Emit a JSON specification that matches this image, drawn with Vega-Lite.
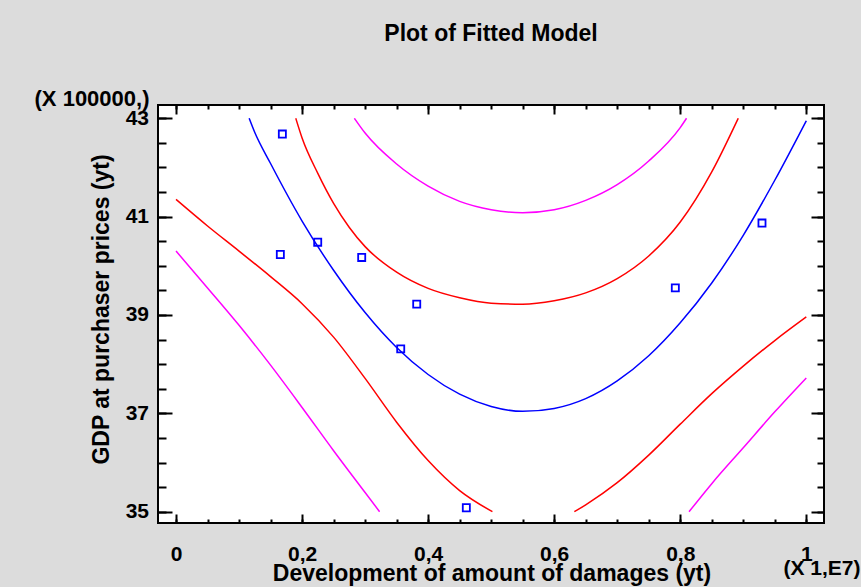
{
  "$schema": "https://vega.github.io/schema/vega-lite/v6.json",
  "width": 666,
  "height": 418,
  "autosize": {"type": "none"},
  "padding": {"left": 158, "top": 105, "right": 37, "bottom": 64},
  "background": "#dcdcdc",
  "title": {"text": "Plot of Fitted Model", "font": "Liberation Sans", "fontSize": 23, "fontWeight": "bold", "color": "black", "anchor": "middle", "frame": "group", "baseline": "alphabetic", "offset": 23},
  "config": {
    "view": {"fill": "white", "stroke": "black", "strokeWidth": 2},
    "axis": {
      "grid": false, "domain": false, "labelOverlap": false,
      "labelFont": "Liberation Sans", "labelFontSize": 21, "labelFontWeight": "bold", "labelColor": "black",
      "titleFont": "Liberation Sans", "titleFontSize": 23, "titleFontWeight": "bold", "titleColor": "black",
      "tickColor": "black", "tickWidth": 2
    }
  },
  "datasets": {
    "curves": [
      {"seg": "fit", "x": 0.116, "y": 43.0}, {"seg": "fit", "x": 0.125, "y": 42.71}, {"seg": "fit", "x": 0.15, "y": 42.08}, {"seg": "fit", "x": 0.2, "y": 40.91}, {"seg": "fit", "x": 0.25, "y": 39.91}, {"seg": "fit", "x": 0.3, "y": 39.05}, {"seg": "fit", "x": 0.35, "y": 38.34}, {"seg": "fit", "x": 0.4, "y": 37.79}, {"seg": "fit", "x": 0.45, "y": 37.39}, {"seg": "fit", "x": 0.5, "y": 37.14}, {"seg": "fit", "x": 0.55, "y": 37.04}, {"seg": "fit", "x": 0.6, "y": 37.1}, {"seg": "fit", "x": 0.65, "y": 37.3}, {"seg": "fit", "x": 0.7, "y": 37.66}, {"seg": "fit", "x": 0.75, "y": 38.17}, {"seg": "fit", "x": 0.8, "y": 38.84}, {"seg": "fit", "x": 0.85, "y": 39.65}, {"seg": "fit", "x": 0.9, "y": 40.62}, {"seg": "fit", "x": 0.95, "y": 41.74}, {"seg": "fit", "x": 1.0, "y": 42.95},
      {"seg": "cu", "x": 0.19, "y": 43.0}, {"seg": "cu", "x": 0.2, "y": 42.6}, {"seg": "cu", "x": 0.225, "y": 41.88}, {"seg": "cu", "x": 0.25, "y": 41.27}, {"seg": "cu", "x": 0.275, "y": 40.78}, {"seg": "cu", "x": 0.3, "y": 40.39}, {"seg": "cu", "x": 0.35, "y": 39.87}, {"seg": "cu", "x": 0.4, "y": 39.54}, {"seg": "cu", "x": 0.45, "y": 39.35}, {"seg": "cu", "x": 0.5, "y": 39.24}, {"seg": "cu", "x": 0.55, "y": 39.22}, {"seg": "cu", "x": 0.6, "y": 39.29}, {"seg": "cu", "x": 0.65, "y": 39.45}, {"seg": "cu", "x": 0.7, "y": 39.74}, {"seg": "cu", "x": 0.75, "y": 40.2}, {"seg": "cu", "x": 0.8, "y": 40.89}, {"seg": "cu", "x": 0.85, "y": 41.91}, {"seg": "cu", "x": 0.892, "y": 43.0},
      {"seg": "cl1", "x": 0.0, "y": 41.35}, {"seg": "cl1", "x": 0.05, "y": 40.81}, {"seg": "cl1", "x": 0.1, "y": 40.3}, {"seg": "cl1", "x": 0.15, "y": 39.78}, {"seg": "cl1", "x": 0.2, "y": 39.23}, {"seg": "cl1", "x": 0.25, "y": 38.55}, {"seg": "cl1", "x": 0.3, "y": 37.71}, {"seg": "cl1", "x": 0.35, "y": 36.82}, {"seg": "cl1", "x": 0.4, "y": 36.04}, {"seg": "cl1", "x": 0.45, "y": 35.43}, {"seg": "cl1", "x": 0.502, "y": 35.0},
      {"seg": "cl2", "x": 0.632, "y": 35.0}, {"seg": "cl2", "x": 0.65, "y": 35.14}, {"seg": "cl2", "x": 0.7, "y": 35.59}, {"seg": "cl2", "x": 0.75, "y": 36.15}, {"seg": "cl2", "x": 0.8, "y": 36.78}, {"seg": "cl2", "x": 0.85, "y": 37.4}, {"seg": "cl2", "x": 0.9, "y": 37.96}, {"seg": "cl2", "x": 0.95, "y": 38.48}, {"seg": "cl2", "x": 1.0, "y": 38.96},
      {"seg": "pu", "x": 0.283, "y": 43.0}, {"seg": "pu", "x": 0.3, "y": 42.7}, {"seg": "pu", "x": 0.35, "y": 42.07}, {"seg": "pu", "x": 0.4, "y": 41.62}, {"seg": "pu", "x": 0.45, "y": 41.31}, {"seg": "pu", "x": 0.5, "y": 41.14}, {"seg": "pu", "x": 0.55, "y": 41.08}, {"seg": "pu", "x": 0.6, "y": 41.14}, {"seg": "pu", "x": 0.65, "y": 41.33}, {"seg": "pu", "x": 0.7, "y": 41.65}, {"seg": "pu", "x": 0.75, "y": 42.13}, {"seg": "pu", "x": 0.8, "y": 42.81}, {"seg": "pu", "x": 0.81, "y": 43.0},
      {"seg": "pl1", "x": 0.0, "y": 40.3}, {"seg": "pl1", "x": 0.05, "y": 39.55}, {"seg": "pl1", "x": 0.1, "y": 38.79}, {"seg": "pl1", "x": 0.15, "y": 37.98}, {"seg": "pl1", "x": 0.2, "y": 37.12}, {"seg": "pl1", "x": 0.25, "y": 36.24}, {"seg": "pl1", "x": 0.3, "y": 35.39}, {"seg": "pl1", "x": 0.323, "y": 35.0},
      {"seg": "pl2", "x": 0.814, "y": 35.0}, {"seg": "pl2", "x": 0.85, "y": 35.57}, {"seg": "pl2", "x": 0.9, "y": 36.3}, {"seg": "pl2", "x": 0.95, "y": 37.03}, {"seg": "pl2", "x": 1.0, "y": 37.72}
    ],
    "pts": [
      {"x": 0.1687, "y": 42.68}, {"x": 0.1655, "y": 40.23}, {"x": 0.2248, "y": 40.48}, {"x": 0.2946, "y": 40.17}, {"x": 0.3819, "y": 39.22}, {"x": 0.3565, "y": 38.31}, {"x": 0.4606, "y": 35.08}, {"x": 0.7922, "y": 39.55}, {"x": 0.9297, "y": 40.87}
    ]
  },
  "resolve": {"axis": {"x": "independent", "y": "independent"}},
  "layer": [
    {
      "data": {"name": "curves"},
      "transform": [{"filter": "datum.seg == 'fit'"}],
      "mark": {"type": "line", "color": "#0000ff", "strokeWidth": 1.5, "interpolate": "monotone"},
      "encoding": {
        "x": {"field": "x", "type": "quantitative", "scale": {"domain": [-0.0286, 1.0281], "nice": false, "zero": false},
          "axis": {"orient": "bottom", "values": [0, 0.2, 0.4, 0.6, 0.8, 1], "ticks": false, "labelPadding": 20,
            "labelExpr": "datum.value == 0 ? '0' : datum.value == 1 ? '1' : replace(format(datum.value, '.1f'), '.', ',')",
            "title": "Development of amount of damages (yt)", "titleX": 333.5, "titleY": 57, "titleAlign": "center", "titleBaseline": "alphabetic"}},
        "y": {"field": "y", "type": "quantitative", "scale": {"domain": [34.77, 43.27], "nice": false, "zero": false},
          "axis": {"orient": "left", "values": [35, 37, 39, 41, 43], "ticks": false, "labelPadding": 9.5,
            "title": "GDP at purchaser prices (yt)", "titleAngle": 270, "titleX": -45, "titleY": 204, "titleAlign": "center", "titleBaseline": "bottom"}},
        "detail": {"field": "seg"}
      }
    },
    {
      "data": {"name": "curves"},
      "transform": [{"filter": "datum.seg == 'cu'"}],
      "mark": {"type": "line", "color": "#ff0000", "strokeWidth": 1.5, "interpolate": "monotone"},
      "encoding": {
        "x": {"field": "x", "type": "quantitative", "scale": {"domain": [-0.0286, 1.0281], "nice": false, "zero": false},
          "axis": {"orient": "bottom", "values": [0, 0.2, 0.4, 0.6, 0.8, 1], "labels": false, "tickSize": -9,
            "title": "(X 1,E7)", "titleFontSize": 21, "titleX": 625, "titleY": 51, "titleAlign": "left", "titleBaseline": "alphabetic"}},
        "y": {"field": "y", "type": "quantitative", "scale": {"domain": [34.77, 43.27], "nice": false, "zero": false},
          "axis": {"orient": "left", "values": [35, 37, 39, 41, 43], "labels": false, "tickSize": -14,
            "title": "(X 100000,)", "titleFontSize": 22, "titleAngle": 0, "titleX": -9, "titleY": 0, "titleAlign": "right", "titleBaseline": "alphabetic"}},
        "detail": {"field": "seg"}
      }
    },
    {
      "data": {"name": "curves"},
      "transform": [{"filter": "datum.seg == 'cl1' || datum.seg == 'cl2'"}],
      "mark": {"type": "line", "color": "#ff0000", "strokeWidth": 1.5, "interpolate": "monotone"},
      "encoding": {
        "x": {"field": "x", "type": "quantitative", "scale": {"domain": [-0.0286, 1.0281], "nice": false, "zero": false},
          "axis": {"orient": "top", "values": [0, 0.05, 0.1, 0.15, 0.2, 0.25, 0.3, 0.35, 0.4, 0.45, 0.5, 0.55, 0.6, 0.65, 0.7, 0.75, 0.8, 0.85, 0.9, 0.95, 1], "labels": false, "tickSize": -4, "title": null}},
        "y": {"field": "y", "type": "quantitative", "scale": {"domain": [34.77, 43.27], "nice": false, "zero": false},
          "axis": {"orient": "right", "values": [35, 35.5, 36, 36.5, 37, 37.5, 38, 38.5, 39, 39.5, 40, 40.5, 41, 41.5, 42, 42.5, 43], "labels": false, "tickSize": -7, "title": null}},
        "detail": {"field": "seg"}
      }
    },
    {
      "data": {"name": "curves"},
      "transform": [{"filter": "datum.seg == 'pu'"}],
      "mark": {"type": "line", "color": "#ff00ff", "strokeWidth": 1.5, "interpolate": "monotone"},
      "encoding": {
        "x": {"field": "x", "type": "quantitative", "scale": {"domain": [-0.0286, 1.0281], "nice": false, "zero": false},
          "axis": {"orient": "bottom", "values": [0, 0.05, 0.1, 0.15, 0.2, 0.25, 0.3, 0.35, 0.4, 0.45, 0.5, 0.55, 0.6, 0.65, 0.7, 0.75, 0.8, 0.85, 0.9, 0.95, 1], "labels": false, "tickSize": -4, "title": null}},
        "y": {"field": "y", "type": "quantitative", "scale": {"domain": [34.77, 43.27], "nice": false, "zero": false},
          "axis": {"orient": "left", "values": [35, 35.5, 36, 36.5, 37, 37.5, 38, 38.5, 39, 39.5, 40, 40.5, 41, 41.5, 42, 42.5, 43], "labels": false, "tickSize": -8, "title": null}},
        "detail": {"field": "seg"}
      }
    },
    {
      "data": {"name": "curves"},
      "transform": [{"filter": "datum.seg == 'pl1' || datum.seg == 'pl2'"}],
      "mark": {"type": "line", "color": "#ff00ff", "strokeWidth": 1.5, "interpolate": "monotone"},
      "encoding": {
        "x": {"field": "x", "type": "quantitative", "scale": {"domain": [-0.0286, 1.0281], "nice": false, "zero": false},
          "axis": {"orient": "top", "values": [0, 0.2, 0.4, 0.6, 0.8, 1], "labels": false, "tickSize": -9, "title": null}},
        "y": {"field": "y", "type": "quantitative", "scale": {"domain": [34.77, 43.27], "nice": false, "zero": false},
          "axis": {"orient": "right", "values": [35, 37, 39, 41, 43], "labels": false, "tickSize": -13, "title": null}},
        "detail": {"field": "seg"}
      }
    },
    {
      "data": {"name": "pts"},
      "mark": {"type": "point", "shape": "square", "filled": false, "color": "#0000ff", "size": 50, "strokeWidth": 1.8, "opacity": 1},
      "encoding": {
        "x": {"field": "x", "type": "quantitative", "scale": {"domain": [-0.0286, 1.0281], "nice": false, "zero": false}, "axis": null},
        "y": {"field": "y", "type": "quantitative", "scale": {"domain": [34.77, 43.27], "nice": false, "zero": false}, "axis": null}
      }
    }
  ]
}
